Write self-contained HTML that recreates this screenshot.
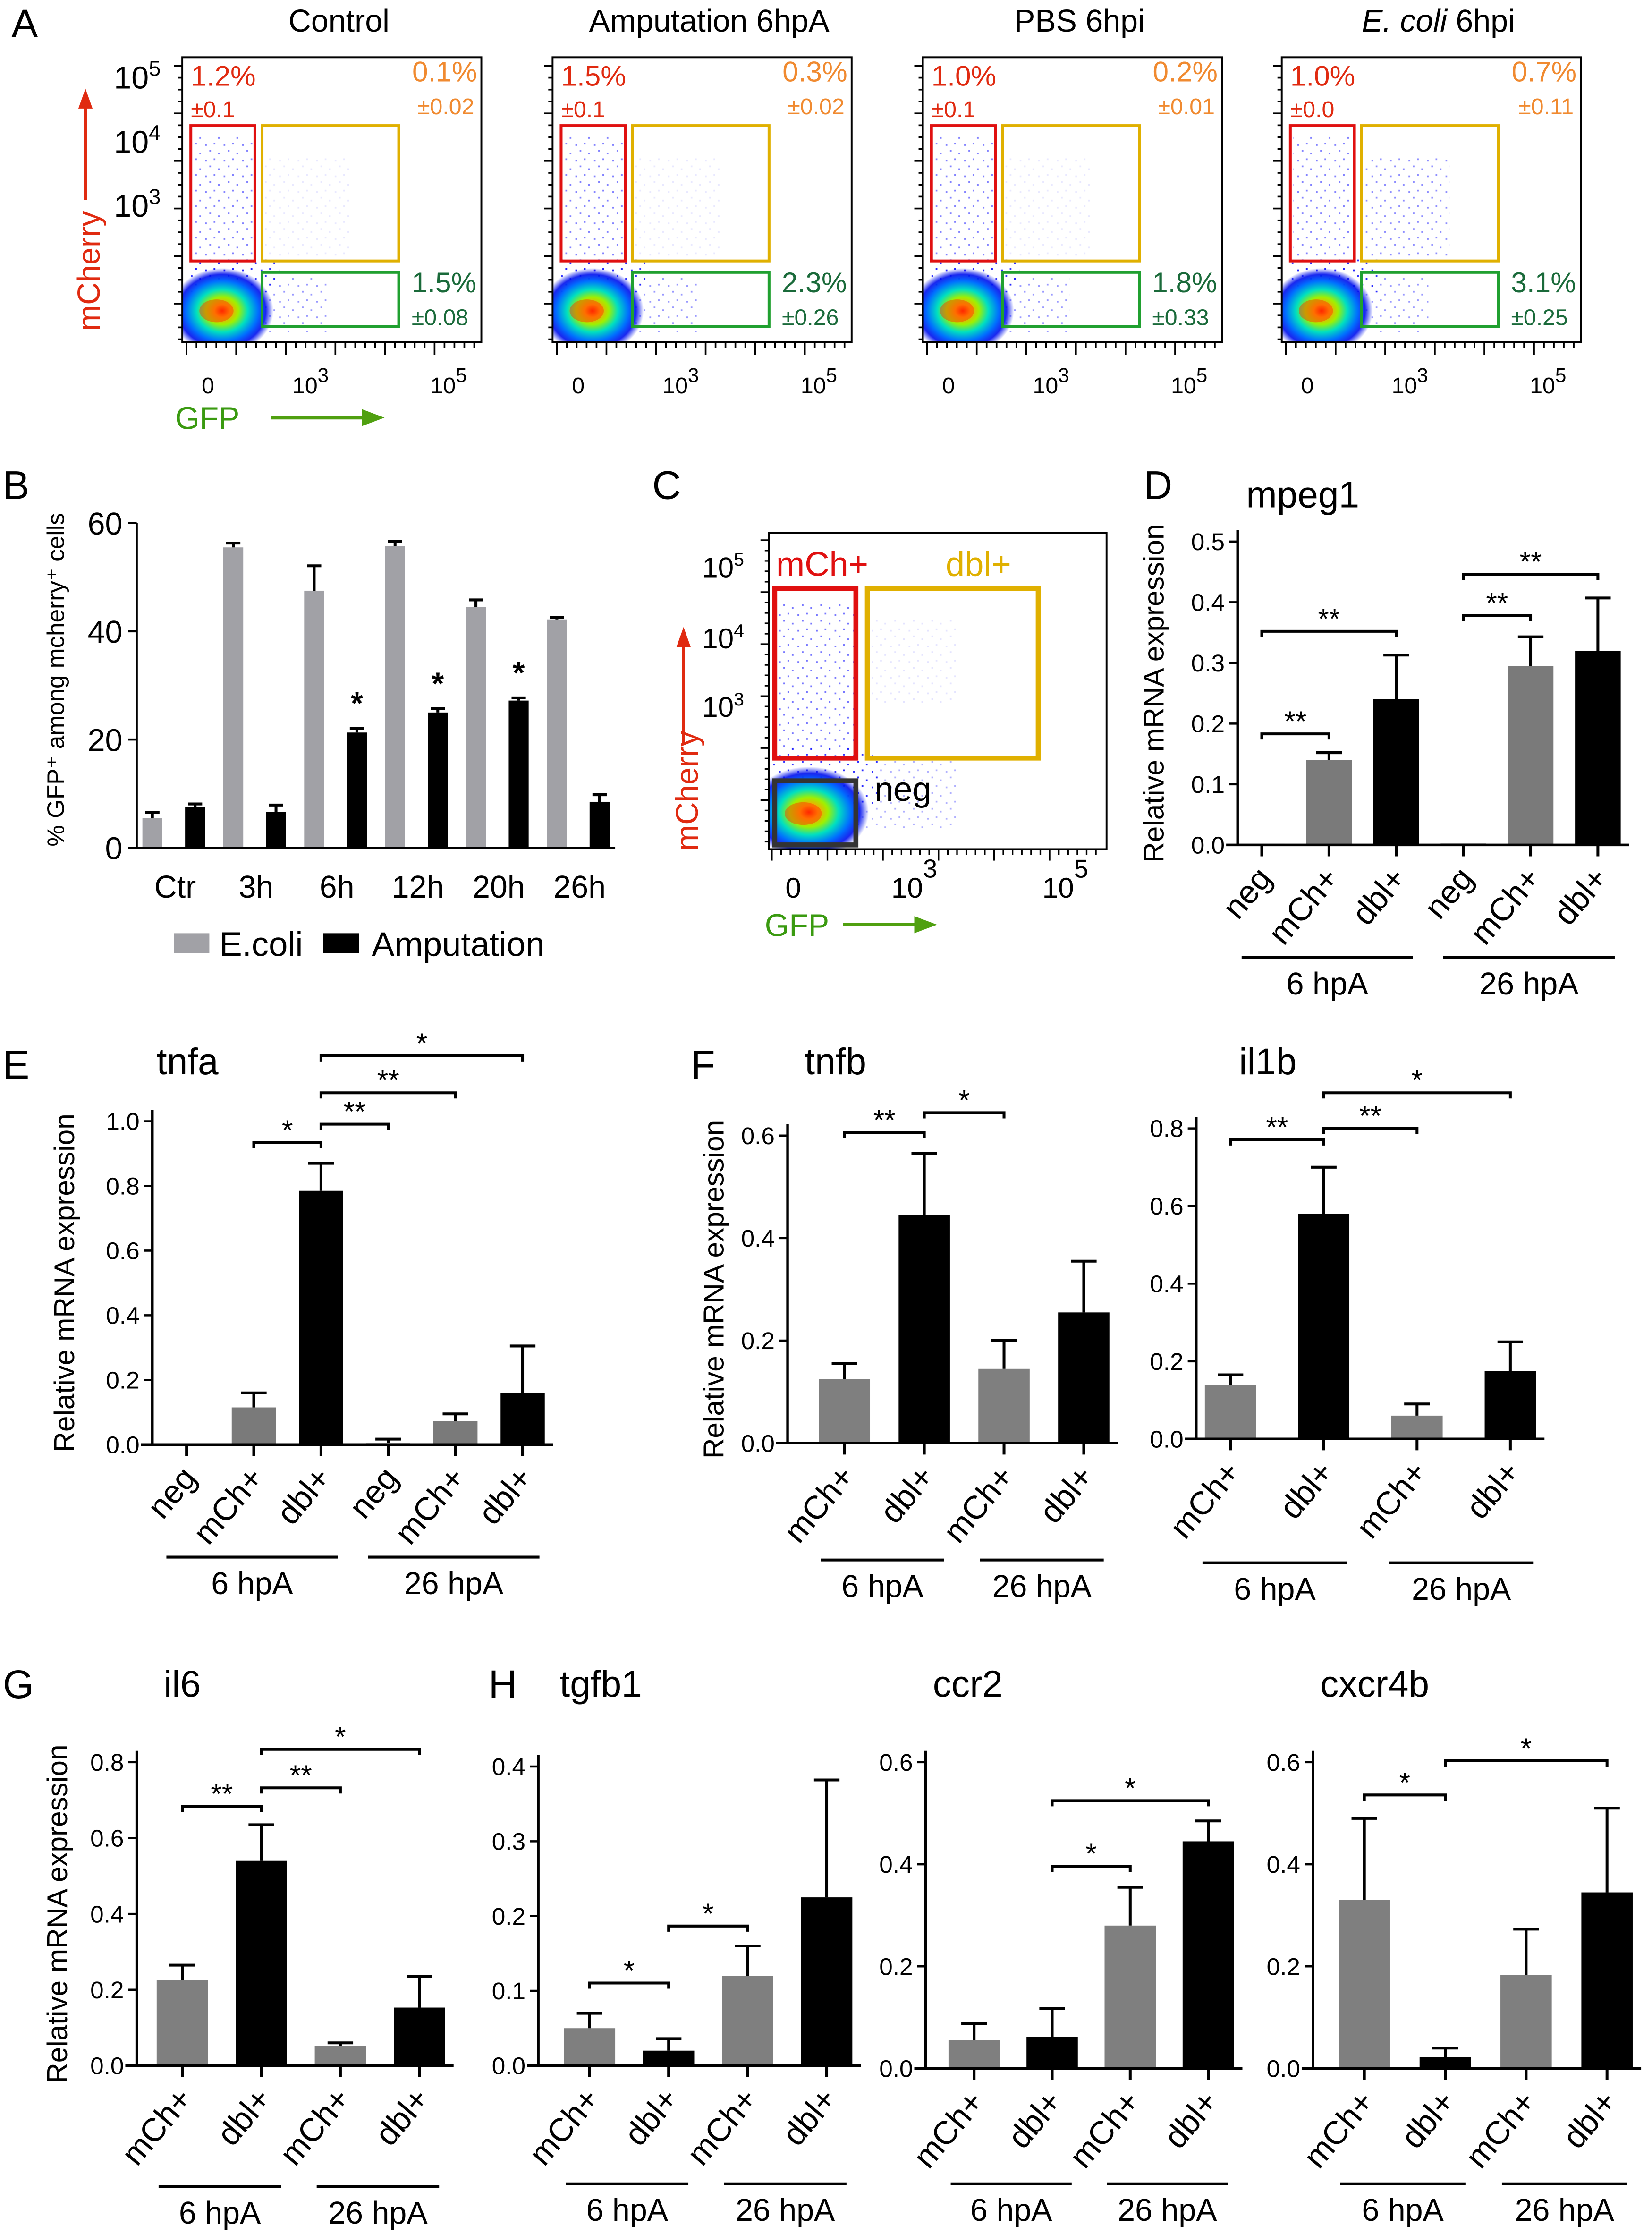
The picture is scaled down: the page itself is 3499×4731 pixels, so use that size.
<!DOCTYPE html>
<html><head><meta charset="utf-8"><style>
html,body{margin:0;padding:0;background:#fff;}
svg{display:block;font-family:"Liberation Sans",Arial,sans-serif;}
</style></head><body>
<svg id="fig" xmlns="http://www.w3.org/2000/svg" width="3499" height="4731" viewBox="0 0 1160 1568">
<defs>
<pattern id="dots" width="13" height="11" patternUnits="userSpaceOnUse">
<rect x="1" y="2" width="1.2" height="1.2" fill="#1a1aff"/><rect x="7" y="1" width="1.2" height="1.2" fill="#1a1aff"/><rect x="4" y="6" width="1.2" height="1.2" fill="#1a1aff"/><rect x="10" y="8" width="1.2" height="1.2" fill="#1a1aff"/>
</pattern>
<radialGradient id="dens">
<stop offset="0" stop-color="#ff2000"/><stop offset="0.15" stop-color="#ffa000"/><stop offset="0.32" stop-color="#a0f000"/><stop offset="0.5" stop-color="#00e0c0"/><stop offset="0.7" stop-color="#0070ff"/><stop offset="0.85" stop-color="#0010ee" stop-opacity="0.9"/><stop offset="1" stop-color="#0010ee" stop-opacity="0"/>
</radialGradient>
</defs>
<g id="root"></g>
</svg>
<script>
// ---------- Panel A data ----------
const flowTitles = ["Control","Amputation 6hpA","PBS 6hpi","E. coli 6hpi"];
const mchPct = ["1.2%","1.5%","1.0%","1.0%"];
const mchSd = ["±0.1","±0.1","±0.1","±0.0"];
const dblPct = ["0.1%","0.3%","0.2%","0.7%"];
const dblSd = ["±0.02","±0.02","±0.01","±0.11"];
const gfpPct = ["1.5%","2.3%","1.8%","3.1%"];
const gfpSd = ["±0.08","±0.26","±0.33","±0.25"];
// ---------- Panel B data ----------
const bCats = ["Ctr","3h","6h","12h","20h","26h"];
const bEcoli = [5.5,55.5,47.5,55.7,44.5,42.2];
const bEcoliErr = [1.0,0.8,4.6,0.9,1.3,0.4];
const bAmp = [7.5,6.6,21.3,25.0,27.2,8.5];
const bAmpErr = [0.6,1.3,0.8,0.7,0.5,1.3];
const bSig = ["","","*","*","*",""];
const bTicks = [0,20,40,60];
// ---------- Bar panels ----------
const cats6 = ["neg","mCh+","dbl+","neg","mCh+","dbl+"];
const cats4 = ["mCh+","dbl+","mCh+","dbl+"];
const mpeg1Vals = [0.002,0.14,0.24,0.003,0.295,0.32];
const mpeg1Err = [0,0.012,0.073,0,0.048,0.087];
const tnfaVals = [0,0.115,0.785,0.005,0.073,0.16];
const tnfaErr = [0,0.045,0.085,0.012,0.022,0.145];
const tnfbVals = [0.125,0.445,0.145,0.255];
const tnfbErr = [0.03,0.12,0.055,0.1];
const il1bVals = [0.14,0.58,0.06,0.175];
const il1bErr = [0.025,0.12,0.03,0.075];
const il6Vals = [0.225,0.54,0.052,0.153];
const il6Err = [0.04,0.095,0.008,0.082];
const tgfb1Vals = [0.05,0.02,0.12,0.225];
const tgfb1Err = [0.02,0.016,0.04,0.157];
const ccr2Vals = [0.055,0.062,0.28,0.445];
const ccr2Err = [0.033,0.055,0.075,0.04];
const cxcr4bVals = [0.33,0.022,0.183,0.345];
const cxcr4bErr = [0.16,0.018,0.09,0.165];

const NS="http://www.w3.org/2000/svg";
const root=document.getElementById('root');
const defs=document.querySelector('defs');
function mk(tag,attrs,parent,txt){const e=document.createElementNS(NS,tag);for(const k in attrs)e.setAttribute(k,attrs[k]);if(txt!==undefined)e.textContent=txt;(parent||root).appendChild(e);return e;}
let clipN=0;
function clipRect(x,y,w,h){const id='clip'+(clipN++);const c=mk('clipPath',{id:id},defs);mk('rect',{x:x,y:y,width:w,height:h},c);return 'url(#'+id+')';}

// Panel letters
const letters=[["A",8,26],["B",2,350],["C",458,350],["D",803,350],["E",2,757],["F",485,757],["G",2,1192],["H",343,1192]];
letters.forEach(l=>{const t=mk('text',{x:l[1],y:l[2],'font-size':28,fill:'#000'},root,l[0]);

});

// ---------- Panel A flow plots ----------
const flowOx=[128,388,648,900];
function flowPlot(ox,top,bot,w,opt){
  const g=mk('g',{});
  
  
  const sx=w/210, sy=(bot-top)/200;
  const X=v=>ox+v*sx, Y=v=>top+v*sy;
  const inner=mk('g',{'clip-path':clipRect(ox,top,w,bot-top)},g);
  mk('rect',{x:X(8),y:Y(55),width:44*sx,height:95*sy,fill:'url(#dots)',opacity:0.55},inner);
  mk('rect',{x:X(6),y:Y(140),width:62*sx,height:25*sy,fill:'url(#dots)',opacity:0.9},inner);
  mk('rect',{x:X(58),y:Y(155),width:45*sx,height:38*sy,fill:'url(#dots)',opacity:0.45},inner);
  mk('rect',{x:X(58),y:Y(70),width:60*sx,height:70*sy,fill:'url(#dots)',opacity:opt.dbl},inner);
  mk('ellipse',{cx:X(28),cy:Y(178),rx:36*sx,ry:30*sy,fill:'url(#dens)'},inner);
  mk('ellipse',{cx:X(24),cy:Y(178),rx:12*sx,ry:8*sy,fill:'#ff3000',opacity:0.45},inner);
  mk('rect',{x:ox,y:top,width:w,height:bot-top,fill:'none',stroke:'#000','stroke-width':1.3},g);
  for(let i=0;i<24;i++){const yy=top+6+i*((bot-top-8)/23);mk('line',{x1:ox-(i%4==0?6:3),y1:yy,x2:ox,y2:yy,stroke:'#000','stroke-width':1.2},g);}
  for(let i=0;i<30;i++){const xx=ox+3+i*((w-8)/29);mk('line',{x1:xx,y1:bot,x2:xx,y2:bot+(i%5==0?9:4),stroke:'#000','stroke-width':1.2},g);}
  return {g,X,Y,sx,sy};
}
flowOx.forEach((ox,i)=>{
  const p=flowPlot(ox,40,240,210,{dbl:i==3?0.5:0.1});
  const g=p.g;
  const gate=(x,y,w,h,c,name)=>{const r=mk('rect',{x:p.X(x),y:p.Y(y),width:w*p.sx,height:h*p.sy,fill:'none',stroke:c,'stroke-width':2},g);};
  gate(6,48,45,95,'#e01010','mcherry-gate');
  gate(56,48,96,95,'#e0b000','double-positive-gate');
  gate(56,151,96,38,'#20a030','gfp-gate');
  const tx=(x,y,s,c,str,anchor,name)=>{const t=mk('text',{x:x,y:y,'font-size':s,fill:c,'text-anchor':anchor||'start'},g,str);};
  tx(ox+6,60,20,'#e02a10',mchPct[i],'start','mcherry-percent');
  tx(ox+6,82,16,'#e02a10',mchSd[i],'start','mcherry-sd');
  tx(ox+207,57,20,'#f08a30',dblPct[i],'end','double-percent');
  tx(ox+205,80,16,'#f08a30',dblSd[i],'end','double-sd');
  tx(ox+161,205,20,'#1a6a3a',gfpPct[i],'start','gfp-percent');
  tx(ox+161,228,16,'#1a6a3a',gfpSd[i],'start','gfp-sd');
  const tt=mk('text',{x:ox+110,y:22,'font-size':22,'text-anchor':'middle'},g);
  
  
  if(i==3){mk('tspan',{'font-style':'italic'},tt,'E. coli');mk('tspan',{},tt,' 6hpi');}else tt.textContent=flowTitles[i];
  tx(ox+18,276,16,'#000','0','middle','x-tick-0');
  const e3=mk('text',{x:ox+90,y:276,'font-size':16,'text-anchor':'middle'},g,'10');mk('tspan',{dy:-8,'font-size':14},e3,'3');
  
  
  const e5=mk('text',{x:ox+187,y:276,'font-size':16,'text-anchor':'middle'},g,'10');mk('tspan',{dy:-8,'font-size':14},e5,'5');
  
  
});
[[5,62],[4,107],[3,152]].forEach(a=>{const t=mk('text',{x:80,y:a[1],'font-size':22},root,'10');mk('tspan',{dy:-9,'font-size':15},t,String(a[0]));

});
function axisLabels(mx,my,gx,gy,ax1,ay1,ay2,bx1,bx2,by){
  const m=mk('text',{x:mx,y:my,'font-size':22,fill:'#e02a10','text-anchor':'middle',transform:`rotate(-90 ${mx} ${my})`},root,'mCherry');
  
  
  const a=mk('path',{d:`M${ax1} ${ay1}V${ay2+12}`,stroke:'#e02a10','stroke-width':2,fill:'none'});
  
  
  mk('path',{d:`M${ax1-5} ${ay2+14}L${ax1} ${ay2}L${ax1+5} ${ay2+14}Z`,fill:'#e02a10'});
  const gt=mk('text',{x:gx,y:gy,'font-size':22,fill:'#3a9a10'},root,'GFP');
  
  
  const b=mk('path',{d:`M${bx1} ${by}H${bx2-14}`,stroke:'#50a010','stroke-width':2.5});
  
  
  mk('path',{d:`M${bx2-16} ${by-6}L${bx2} ${by}L${bx2-16} ${by+6}Z`,fill:'#50a010'});
}
axisLabels(70,190,123,301,60,140,62,190,270,293);

// ---------- Panel C ----------
(function(){
  const ox=540,top=374,bot=596,w=237;
  const g=mk('g',{});
  
  
  const inner=mk('g',{'clip-path':clipRect(ox,top,w,bot-top)},g);
  mk('rect',{x:ox+6,y:top+50,width:56,height:105,fill:'url(#dots)',opacity:0.6},inner);
  mk('rect',{x:ox+2,y:top+150,width:75,height:40,fill:'url(#dots)',opacity:0.9},inner);
  mk('rect',{x:ox+62,y:top+160,width:70,height:50,fill:'url(#dots)',opacity:0.35},inner);
  mk('rect',{x:ox+72,y:top+60,width:60,height:60,fill:'url(#dots)',opacity:0.12},inner);
  mk('ellipse',{cx:ox+28,cy:top+196,rx:42,ry:32,fill:'url(#dens)'},inner);
  mk('ellipse',{cx:ox+24,cy:top+197,rx:13,ry:8,fill:'#ff3000',opacity:0.45},inner);
  mk('rect',{x:ox,y:top,width:w,height:bot-top,fill:'none',stroke:'#000','stroke-width':1.3},g);
  for(let i=0;i<30;i++){const yy=top+5+i*7.3;mk('line',{x1:ox-(i%5==0?6:3),y1:yy,x2:ox,y2:yy,stroke:'#000','stroke-width':1.1},g);}
  for(let i=0;i<36;i++){const xx=ox+2+i*6.5;mk('line',{x1:xx,y1:bot,x2:xx,y2:bot+(i%6==0?8:4),stroke:'#000','stroke-width':1.1},g);}
  const r1=mk('rect',{x:544,y:413,width:57,height:119,fill:'none',stroke:'#e01010','stroke-width':3.5},g);
  
  
  const r2=mk('rect',{x:609,y:413,width:120,height:119,fill:'none',stroke:'#e0b000','stroke-width':3.5},g);
  
  
  const r3=mk('rect',{x:544,y:548,width:57,height:45,fill:'none',stroke:'#333','stroke-width':3.5},g);
  
  
  const l1=mk('text',{x:545,y:404,'font-size':24,fill:'#e01010'},g,'mCh+');
  const l2=mk('text',{x:664,y:404,'font-size':24,fill:'#e0b000'},g,'dbl+');
  const l3=mk('text',{x:614,y:562,'font-size':24,fill:'#000'},g,'neg');
  [[5,405],[4,455],[3,503]].forEach(a=>{const t=mk('text',{x:493,y:a[1],'font-size':20},root,'10');mk('tspan',{dy:-8,'font-size':13},t,String(a[0]));
  
  });
  const t0=mk('text',{x:557,y:630,'font-size':20,'text-anchor':'middle'},root,'0');
  const t3=mk('text',{x:642,y:630,'font-size':20,'text-anchor':'middle'},root,'10');mk('tspan',{dy:-14,'font-size':18},t3,'3');
  const t5=mk('text',{x:748,y:630,'font-size':20,'text-anchor':'middle'},root,'10');mk('tspan',{dy:-14,'font-size':18},t5,'5');
  axisLabels(490,555,537,657,480,522,440,592,658,649);
})();

// ---------- Panel B ----------
(function(){
  const ax=96,y0=595,yT=367,xEnd=432;
  const Y=v=>y0-(v/60)*(y0-yT);
  const X=i=>123+i*56.8;
  const g=mk('g',{});
  
  
  bTicks.forEach(t=>{mk('line',{x1:ax-6,y1:Y(t),x2:ax,y2:Y(t),stroke:'#000','stroke-width':1.5},g);
    const tl=mk('text',{x:ax-10,y:Y(t)+8,'font-size':22,'text-anchor':'end'},g,String(t));
    
    });
  bCats.forEach((c,i)=>{
    const x=X(i);
    const r1=mk('rect',{x:x-23,y:Y(bEcoli[i]),width:14,height:y0-Y(bEcoli[i]),fill:'#a1a1a6'},g);
    
    
    mk('path',{d:`M${x-16} ${Y(bEcoli[i])}V${Y(bEcoli[i]+bEcoliErr[i])}M${x-21} ${Y(bEcoli[i]+bEcoliErr[i])}H${x-11}`,stroke:'#000','stroke-width':2},g);
    const r2=mk('rect',{x:x+7,y:Y(bAmp[i]),width:14,height:y0-Y(bAmp[i]),fill:'#000'},g);
    
    
    mk('path',{d:`M${x+14} ${Y(bAmp[i])}V${Y(bAmp[i]+bAmpErr[i])}M${x+9} ${Y(bAmp[i]+bAmpErr[i])}H${x+19}`,stroke:'#000','stroke-width':2},g);
    if(bSig[i]){const s=mk('text',{x:x+14,y:Y(bAmp[i]+bAmpErr[i])-10,'font-size':22,'text-anchor':'middle','font-weight':'bold'},g,bSig[i]);}
    const cl=mk('text',{x:x,y:630,'font-size':22,'text-anchor':'middle'},g,c);
    
    
  });
  mk('path',{d:`M${ax} ${yT}V${y0}H${xEnd}`,stroke:'#000','stroke-width':1.5,fill:'none'},g);
  const yl=mk('text',{x:45,y:477,'font-size':17,'text-anchor':'middle',transform:'rotate(-90 45 477)'},g,'% GFP⁺ among mcherry⁺ cells');
  
  
  const le1=mk('rect',{x:122,y:655,width:25,height:14,fill:'#a1a1a6'},g);
  const lt1=mk('text',{x:154,y:671,'font-size':24},g,'E.coli');
  const le2=mk('rect',{x:227,y:655,width:25,height:14,fill:'#000'},g);
  const lt2=mk('text',{x:261,y:671,'font-size':24},g,'Amputation');
})();

// ---------- generic bar chart ----------
function barChart(o){
  const g=mk('g',{});
  
  
  const Y=v=>o.y0-(v/o.max)*(o.y0-o.yT);
  const X=i=>o.x0+i*o.step;
  const n=o.vals.length;
  const colors=n==6?['#bbb','#7a7a7a','#000','#bbb','#7a7a7a','#000']:['#7f7f7f','#000','#7f7f7f','#000'];
  const tt=mk('text',{x:o.tx,y:o.ty,'font-size':26},g,o.name);
  
  
  o.ticks.forEach(t=>{mk('line',{x1:o.ax-6,y1:Y(t),x2:o.ax,y2:Y(t),stroke:'#000','stroke-width':1.5},g);
    const tl=mk('text',{x:o.ax-9,y:Y(t)+6,'font-size':o.tfs||17,'text-anchor':'end'},g,t.toFixed(1));
    
    });
  for(let i=0;i<n;i++){
    const x=X(i),v=o.vals[i],e=o.errs[i];
    const r=mk('rect',{x:x-o.bw/2,y:Y(v),width:o.bw,height:Math.max(o.y0-Y(v),0.8),fill:colors[i]},g);
    
    
    if(e>0){mk('path',{d:`M${x} ${Y(v)}V${Y(v+e)}M${x-9} ${Y(v+e)}H${x+9}`,stroke:'#000','stroke-width':2},g);}
    mk('line',{x1:x,y1:o.y0,x2:x,y2:o.y0+8,stroke:'#000','stroke-width':2},g);
    const lx=x+8,ly=o.y0+24;
    const cl=mk('text',{x:lx,y:ly,'font-size':23,'text-anchor':'end',transform:`rotate(-50 ${lx} ${ly})`},g,o.cats[i]);
    
    
  }
  mk('path',{d:`M${o.ax} ${o.yT-8}V${o.y0}M${o.ax-8} ${o.y0}H${X(n-1)+o.bw/2+6}`,stroke:'#000','stroke-width':1.8,fill:'none'},g);
  o.sigs.forEach(s=>{const x1=X(s[0]),x2=X(s[1]),y=s[2];
    const p=mk('path',{d:`M${x1} ${y+4}V${y}H${x2}V${y+4}`,stroke:'#000','stroke-width':2,fill:'none'},g);
    
    
    const st=mk('text',{x:(x1+x2)/2,y:y-2,'font-size':20,'text-anchor':'middle'},g,s[3]);
    
    });
  const half=n/2;
  [[0,'6 hpA'],[half,'26 hpA']].forEach(gr=>{const a=X(gr[0])-o.step*0.3,b=X(gr[0]+half-1)+o.step*0.25;
    mk('line',{x1:a,y1:o.gy,x2:b,y2:o.gy,stroke:'#000','stroke-width':2},g);
    const gl=mk('text',{x:(a+b)/2,y:o.gy+26,'font-size':22,'text-anchor':'middle'},g,gr[1]);
    
    });
  if(o.ylab){const yl=mk('text',{x:o.ylx,y:(o.y0+o.yT)/2,'font-size':20,'text-anchor':'middle',transform:`rotate(-90 ${o.ylx} ${(o.y0+o.yT)/2})`},g,'Relative mRNA expression');
    
    }
}
const t5=[0,0.1,0.2,0.3,0.4,0.5], t10=[0,0.2,0.4,0.6,0.8,1.0], t6=[0,0.2,0.4,0.6], t8=[0,0.2,0.4,0.6,0.8], t4=[0,0.1,0.2,0.3,0.4];
barChart({name:'mpeg1',vals:mpeg1Vals,errs:mpeg1Err,cats:cats6,ax:869,y0:593,yT:380,max:0.5,ticks:t5,x0:886,step:47.2,bw:32,tx:875,ty:356,
  sigs:[[0,1,515,'**'],[0,2,443,'**'],[3,4,432,'**'],[3,5,403,'**']],gy:672,ylab:true,ylx:817});
barChart({name:'tnfa',vals:tnfaVals,errs:tnfaErr,cats:cats6,ax:107,y0:1014,yT:787,max:1.0,ticks:t10,x0:131,step:47.2,bw:31,tx:110,ty:754,
  sigs:[[1,2,802,'*'],[2,3,789,'**'],[2,4,767,'**'],[2,5,741,'*']],gy:1093,ylab:true,ylx:52});
barChart({name:'tnfb',vals:tnfbVals,errs:tnfbErr,cats:cats4,ax:553,y0:1013,yT:797,max:0.6,ticks:t6,x0:593,step:56,bw:36,tx:565,ty:754,
  sigs:[[0,1,795,'**'],[1,2,781,'*']],gy:1095,ylab:true,ylx:508});
barChart({name:'il1b',vals:il1bVals,errs:il1bErr,cats:cats4,ax:840,y0:1010,yT:792,max:0.8,ticks:t8,x0:864,step:65.5,bw:36,tx:870,ty:754,
  sigs:[[0,1,800,'**'],[1,2,792,'**'],[1,3,767,'*']],gy:1097});
barChart({name:'il6',vals:il6Vals,errs:il6Err,cats:cats4,ax:96,y0:1450,yT:1237,max:0.8,ticks:t8,x0:128,step:55.5,bw:36,tx:115,ty:1191,
  sigs:[[0,1,1268,'**'],[1,2,1255,'**'],[1,3,1228,'*']],gy:1535,ylab:true,ylx:47});
barChart({name:'tgfb1',vals:tgfb1Vals,errs:tgfb1Err,cats:cats4,ax:378,y0:1450,yT:1240,max:0.4,ticks:t4,x0:414,step:55.5,bw:36,tx:393,ty:1191,
  sigs:[[0,1,1392,'*'],[1,2,1352,'*']],gy:1533});
barChart({name:'ccr2',vals:ccr2Vals,errs:ccr2Err,cats:cats4,ax:650,y0:1452,yT:1237,max:0.6,ticks:t6,x0:684,step:54.8,bw:36,tx:655,ty:1191,
  sigs:[[1,2,1310,'*'],[1,3,1264,'*']],gy:1533});
barChart({name:'cxcr4b',vals:cxcr4bVals,errs:cxcr4bErr,cats:cats4,ax:922,y0:1452,yT:1237,max:0.6,ticks:t6,x0:958,step:56.8,bw:36,tx:927,ty:1191,
  sigs:[[0,1,1260,'*'],[1,3,1236,'*']],gy:1533});
</script>
</body></html>
